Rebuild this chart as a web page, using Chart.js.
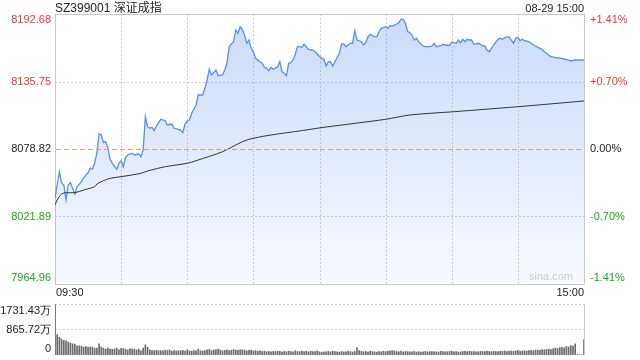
<!DOCTYPE html>
<html><head><meta charset="utf-8">
<script src="https://cdn.jsdelivr.net/npm/chart.js@4.4.1/dist/chart.umd.min.js"></script>
<style>
html,body{margin:0;padding:0;background:#fff;}
#wrap{position:relative;width:640px;height:360px;overflow:hidden;font-family:"Liberation Sans",Arial,"Noto Sans CJK SC",sans-serif;}
#c1{position:absolute;left:0;top:0;}
#c2{position:absolute;left:0;top:300px;}
.hdr{position:absolute;top:1px;font-size:12px;line-height:14px;color:#222;white-space:nowrap;}
</style></head><body>
<div id="wrap">
<canvas id="c1" width="640" height="300"></canvas>
<canvas id="c2" width="640" height="60"></canvas>
<div class="hdr" style="left:55px">SZ399001 深证成指</div>
<div class="hdr" style="right:56px;font-size:11px;">08-29 15:00</div>
</div>
<script>
const prevClose = 8078.82;
const priceTicks = [7964.96, 8021.89, 8078.82, 8135.75, 8192.68];
const pctLabels = ['-1.41%', '-0.70%', '0.00%', '+0.70%', '+1.41%'];
const volTicks = [0, 865.72, 1731.43];
const volLabels = ['0', '865.72万', '1731.43万'];
const timeLabels = ['09:30', '15:00'];
const gridMinutes = [30, 60, 90, 120, 150, 180, 210];

const priceMinutes = [
0,2,3,4,5,6,7,9,10,12,
13,14,15,16,17,18,19,20,21,22,
23,24,25,26,28,29,30,31,32,33,
35,36,38,39,40,41,42,43,44,45,
46,48,50,51,53,54,56,57,58,59,
60,61,62,64,65,67,68,69,70,71,
73,74,76,77,78,79,80,81,82,83,
84,85,86,87,88,89,90,91,93,94,
95,96,97,98,99,101,102,103,104,105,
106,107,108,109,110,111,112,113,114,115,
117,118,120,121,122,123,124,125,126,127,
129,130,131,132,134,135,136,137,139,140,
141,142,143,145,146,147,148,150,151,152,
153,155,156,157,158,159,160,161,162,163,
164,165,167,168,170,171,172,173,175,176,
177,179,180,182,183,184,185,186,187,188,
189,190,192,193,194,195,196,197,198,199,
201,202,203,204,206,207,208,209,210,211,
212,213,215,216,218,220,221,222,224,225,
227,228,231,233,234,236,237,240];
const priceValues = [
8037.49,8059.67,8050.14,8048.46,8035.81,8048.46,8050.40,8040.87,8047.02,8051.24,
8054.36,8056.89,8058.58,8062.79,8061.95,8067.01,8075.45,8091.47,8090.80,8084.13,
8084.98,8079.66,8070.13,8066.76,8061.70,8066.76,8068.95,8063.89,8071.82,8073.76,
8075.19,8073.76,8074.60,8072.33,8077.98,8106.06,8097.63,8096.28,8097.12,8094.25,
8098.22,8103.87,8102.69,8099.06,8099.90,8096.28,8095.43,8094.84,8092.57,8099.90,
8102.44,8103.28,8108.93,8115.93,8124.36,8124.36,8130.01,8137.01,8146.04,8141.23,
8145.45,8140.64,8141.23,8145.45,8151.10,8165.10,8167.38,8169.32,8179.19,8176.40,
8181.97,8179.78,8174.97,8167.97,8170.75,8163.75,8160.88,8155.32,8152.45,8151.10,
8147.73,8146.88,8144.86,8147.73,8146.04,8148.23,8152.45,8144.02,8142.67,8140.64,
8151.10,8151.61,8153.88,8158.69,8165.10,8165.10,8164.59,8167.12,8165.10,8162.91,
8162.32,8160.88,8156.84,8155.32,8154.47,8148.82,8152.45,8152.45,8148.82,8152.45,
8159.53,8167.38,8167.38,8165.10,8167.97,8167.97,8178.60,8170.75,8169.32,8166.53,
8168.81,8173.53,8175.56,8173.53,8173.53,8177.75,8180.62,8181.97,8180.62,8182.81,
8182.56,8184.25,8185.34,8188.21,8188.21,8184.84,8177.75,8176.91,8174.97,8170.75,
8172.19,8169.32,8165.69,8165.10,8165.10,8165.69,8167.97,8165.10,8165.94,8167.12,
8166.53,8166.11,8169.06,8167.97,8170.75,8168.47,8171.34,8169.32,8171.34,8170.75,
8170.75,8167.12,8167.97,8167.12,8165.69,8165.69,8162.32,8160.88,8163.75,8166.53,
8171.59,8172.19,8171.34,8172.69,8173.53,8170.75,8167.97,8172.19,8173.03,8170.16,
8171.34,8170.16,8169.32,8167.97,8165.69,8163.75,8162.91,8160.88,8158.10,8156.67,
8155.82,8155.82,8154.73,8153.88,8153.04,8153.88,8153.88,8153.88];

const avgMinutes = [0,1,3,5,9,13,18,19,22,25,30,39,42,50,60,64,76,88,116,122,150,161,181,210,240];
const avgValues = [8031.59,8035.81,8040.87,8041.96,8041.96,8044.24,8047.02,8049.30,8052.08,8054.11,8055.46,8058.32,8060.26,8063.89,8066.76,8068.95,8076.54,8087.00,8095.43,8097.12,8103.87,8107.50,8110.28,8114.50,8119.30];

const volumeValues = [
1731,690,600,540,495,485,440,405,380,370,
310,312,305,265,285,270,275,268,230,235,
380,270,230,195,232,200,198,200,230,175,
228,220,200,175,222,200,200,175,200,140,
235,345,260,175,150,150,160,145,150,140,
165,150,175,130,150,140,145,150,160,135,
175,140,130,150,145,200,145,135,150,175,
195,150,170,180,200,170,140,160,175,150,
165,185,170,160,175,175,165,140,160,165,
140,150,125,140,120,130,110,120,105,120,
115,130,125,100,120,110,130,115,105,145,
120,110,135,115,125,100,130,115,120,140,
110,95,105,110,120,100,130,120,110,95,
120,105,110,130,115,100,120,250,150,125,
110,120,100,130,115,105,95,120,110,130,
115,125,140,150,140,120,110,130,100,120,
115,110,105,120,95,115,100,110,125,100,
115,120,105,110,100,125,115,105,110,120,
130,110,115,100,105,120,125,110,130,115,
120,105,110,125,120,115,130,120,110,125,
115,120,130,125,140,120,130,135,125,140,
150,125,135,145,130,150,160,145,170,165,
155,180,170,190,200,185,210,230,220,250,
260,240,290,270,320,300,380,15,10,10,
520];

const FONT = '"Liberation Sans", Arial, sans-serif';
const RED = '#f03434', GREEN = '#1fa31f', BLACK = '#222';
function tickColor(v){ return Math.abs(v - prevClose) < 0.005 ? BLACK : (v > prevClose ? RED : GREEN); }
function hline(ctx, x1, x2, y){ ctx.beginPath(); ctx.moveTo(x1, y); ctx.lineTo(x2, y); ctx.stroke(); }
function vline(ctx, x, y1, y2){ ctx.beginPath(); ctx.moveTo(x, y1); ctx.lineTo(x, y2); ctx.stroke(); }

const mainFrame = {
  id: 'mainFrame',
  beforeDatasetsDraw(chart){
    const {ctx, chartArea: a, scales: {x, y}} = chart;
    ctx.save();
    ctx.lineWidth = 1;
    ctx.strokeStyle = '#cdcdcd';
    ctx.setLineDash([2, 2]);
    gridMinutes.forEach(m => { const px = Math.round(x.getPixelForValue(m)) + 0.5; vline(ctx, px, a.top, a.bottom); });
    priceTicks.forEach((v, i) => {
      if (i === 0 || i === priceTicks.length - 1 || v === prevClose) return;
      const py = Math.round(y.getPixelForValue(v)) + 0.5; hline(ctx, a.left, a.right, py);
    });
    ctx.setLineDash([]);
    ctx.strokeStyle = '#c8c8c8';
    ctx.strokeRect(Math.round(a.left) + 0.5, Math.round(a.top) + 0.5, Math.round(a.right - a.left), Math.round(a.bottom - a.top));
    ctx.restore();
  },
  afterDatasetsDraw(chart){
    const {ctx, chartArea: a, scales: {y}} = chart;
    ctx.save();
    ctx.lineWidth = 1;
    ctx.strokeStyle = '#f09a60';
    ctx.setLineDash([5, 3]);
    const pz = Math.round(y.getPixelForValue(prevClose)) + 0.5; hline(ctx, a.left + 1, a.right, pz);
    ctx.restore();
  },
  afterDraw(chart){
    const {ctx, chartArea: a, scales: {x, y}} = chart;
    ctx.save();
    ctx.font = '11px ' + FONT;
    ctx.textBaseline = 'middle';
    priceTicks.forEach((v, i) => {
      let py = y.getPixelForValue(v);
      if (i === 0) py -= 6;
      if (i === priceTicks.length - 1) py += 6;
      ctx.fillStyle = tickColor(v);
      ctx.textAlign = 'right'; ctx.fillText(v.toFixed(2), a.left - 4, py);
      ctx.textAlign = 'left'; ctx.fillText(pctLabels[i], a.right + 6, py);
    });
    ctx.fillStyle = '#222';
    ctx.textAlign = 'left'; ctx.fillText(timeLabels[0], x.getPixelForValue(0) + 1, a.bottom + 9);
    ctx.textAlign = 'right'; ctx.fillText(timeLabels[1], x.getPixelForValue(240), a.bottom + 9);
    ctx.fillStyle = '#c9c9c9';
    ctx.textAlign = 'right'; ctx.fillText('sina.com', a.right - 11, a.bottom - 7);
    ctx.restore();
  }
};

const volFrame = {
  id: 'volFrame',
  beforeDatasetsDraw(chart){
    const {ctx, chartArea: a, scales: {y}} = chart;
    ctx.save();
    ctx.lineWidth = 1;
    ctx.strokeStyle = '#cdcdcd';
    ctx.setLineDash([2, 2]);
    volTicks.forEach((v, i) => { if (i === 0) return; const py = Math.round(y.getPixelForValue(v)) + 0.5; hline(ctx, a.left, a.right, py); });
    ctx.setLineDash([]);
    ctx.strokeStyle = '#c8c8c8';
    vline(ctx, Math.round(a.right) + 0.5, a.top, a.bottom);
    vline(ctx, Math.round(a.left) + 0.5, a.top, a.bottom);
    ctx.restore();
  },
  afterDraw(chart){
    const {ctx, chartArea: a, scales: {y}} = chart;
    ctx.save();
    ctx.font = '11px ' + FONT;
    ctx.textBaseline = 'middle';
    ctx.fillStyle = '#222';
    ctx.textAlign = 'right';
    volTicks.forEach((v, i) => {
      let py = y.getPixelForValue(v);
      if (i === 0) py -= 6;
      if (i === volTicks.length - 1) py += 7;
      ctx.fillText(volLabels[i], a.left - 4, py);
    });
    ctx.restore();
  }
};

const common = {
  responsive: false, animation: false, events: [],
  plugins: { legend: { display: false }, tooltip: { enabled: false }, title: { display: false } }
};

new Chart(document.getElementById('c1'), {
  type: 'line',
  data: {
    datasets: [
      { label: 'avg', order: 0, data: avgMinutes.map((m, i) => ({ x: m, y: avgValues[i] })),
        borderColor: '#333', borderWidth: 1, pointRadius: 0, fill: false, tension: 0.3 },
      { label: 'price', order: 1, data: priceMinutes.map((m, i) => ({ x: m, y: priceValues[i] })),
        borderColor: '#5590ef', borderWidth: 1.3, pointRadius: 0, tension: 0, fill: 'start',
        backgroundColor: (ctx) => {
          const a = ctx.chart.chartArea; if (!a) return 'rgba(100,150,240,0.2)';
          const g = ctx.chart.ctx.createLinearGradient(0, a.top, 0, a.bottom);
          g.addColorStop(0, 'rgba(100,150,240,0.34)');
          g.addColorStop(1, 'rgba(100,150,240,0.05)');
          return g;
        } }
    ]
  },
  options: Object.assign({}, common, {
    layout: { padding: { left: 55, right: 56, top: 14, bottom: 16 } },
    scales: {
      x: { type: 'linear', min: 0, max: 240, display: false },
      y: { type: 'linear', min: priceTicks[0], max: priceTicks[priceTicks.length - 1], display: false }
    }
  }),
  plugins: [mainFrame]
});

new Chart(document.getElementById('c2'), {
  type: 'bar',
  data: {
    datasets: [{ label: 'vol', data: volumeValues.map((v, i) => ({ x: i, y: v })),
      backgroundColor: '#6a6a6a', barThickness: 1, borderWidth: 0 }]
  },
  options: Object.assign({}, common, {
    layout: { padding: { left: 55, right: 56, top: 4, bottom: 5 } },
    scales: {
      x: { type: 'linear', min: 0, max: 240, offset: false, display: false },
      y: { type: 'linear', min: 0, max: volTicks[volTicks.length - 1], display: false }
    }
  }),
  plugins: [volFrame]
});
</script>
</body></html>
